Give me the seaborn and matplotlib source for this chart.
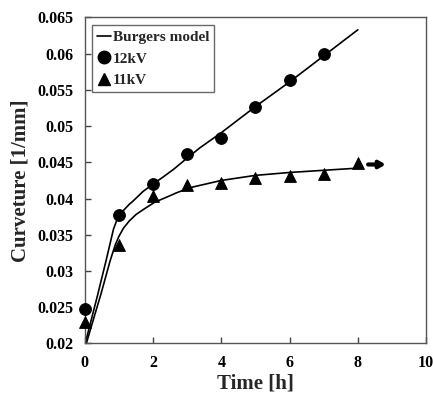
import matplotlib
matplotlib.use("Agg")
from matplotlib import pyplot as plt
from matplotlib.lines import Line2D
import seaborn as sns

# measured points
time_12kv = [0, 1, 2, 3, 4, 5, 6, 7]
curv_12kv = [0.0247, 0.0377, 0.0420, 0.0461, 0.0483, 0.0527, 0.0564, 0.0600]
time_11kv = [0, 1, 2, 3, 4, 5, 6, 7, 8]
curv_11kv = [0.0230, 0.0336, 0.0403, 0.0419, 0.0422, 0.0428, 0.0431, 0.0434, 0.0449]

# Burgers model curves (clipped at the bottom axis)
model_t_12 = [0, 0.13, 0.38, 0.62, 0.84, 0.92, 1.0, 1.1, 1.2, 1.3, 1.4, 1.71, 2.0,
              2.3, 2.59, 3.0, 3.37, 4, 5, 6, 7, 8]
model_c_12 = [0.0198, 0.0222, 0.0268, 0.0314, 0.0358, 0.0368, 0.0375, 0.0382, 0.0387,
              0.0392, 0.0396, 0.0410, 0.0420, 0.0430, 0.0440, 0.0456, 0.0470, 0.0491,
              0.0527, 0.0561, 0.0597, 0.0633]
model_t_11 = [0, 0.18, 0.47, 0.74, 0.89, 1.0, 1.13, 1.3, 1.5, 1.75, 2.05, 2.4, 2.69,
              3.08, 4, 5, 6, 7, 8]
model_c_11 = [0.0193, 0.0222, 0.0268, 0.0314, 0.0336, 0.0348, 0.0359, 0.0369, 0.0378,
              0.0386, 0.0395, 0.0402, 0.0408, 0.0415, 0.0425, 0.0432, 0.0436, 0.0439,
              0.0442]

x_ticks = [0, 2, 4, 6, 8, 10]
y_ticks = [0.02, 0.025, 0.03, 0.035, 0.04, 0.045, 0.05, 0.055, 0.06, 0.065]
y_tick_labels = ["0.02", "0.025", "0.03", "0.035", "0.04", "0.045", "0.05", "0.055", "0.06", "0.065"]

sns.set_style("ticks")
plt.rcParams["font.family"] = ["Liberation Serif", "DejaVu Serif"]
plt.rcParams["font.weight"] = "bold"

fig = plt.figure(figsize=(4.33, 3.97), dpi=100)
ax = fig.add_axes([0.196, 0.135, 0.788, 0.821])

sns.lineplot(x=model_t_12, y=model_c_12, ax=ax, color="black", linewidth=1.2, sort=False)
sns.lineplot(x=model_t_11, y=model_c_11, ax=ax, color="black", linewidth=1.2, sort=False)
sns.scatterplot(x=time_12kv, y=curv_12kv, ax=ax, marker="o", color="black", s=72,
                edgecolor="black", zorder=3, clip_on=False)
sns.scatterplot(x=time_11kv, y=curv_11kv, ax=ax, marker="^", color="black", s=72,
                edgecolor="black", zorder=3, clip_on=False)

ax.annotate("", xy=(8.9, 0.0447), xytext=(8.22, 0.0447),
            arrowprops=dict(arrowstyle="-|>,head_length=0.35,head_width=0.2",
                            color="black", lw=3))

ax.set_xlim(0, 10)
ax.set_ylim(0.02, 0.065)
ax.set_xticks(x_ticks)
ax.set_yticks(y_ticks)
ax.set_yticklabels(y_tick_labels)
ax.tick_params(direction="in", length=4, width=1, labelsize=11.5, pad=8, colors="#444444",
               labelcolor="black")
for lab in ax.get_xticklabels() + ax.get_yticklabels():
    lab.set_fontweight("bold")
for sp in ax.spines.values():
    sp.set_visible(True)
    sp.set_color("#555555")
    sp.set_linewidth(1.0)

ax.set_xlabel("Time [h]", fontsize=15, fontweight="bold", labelpad=2)
ax.set_ylabel("Curveture [1/mm]", fontsize=15, fontweight="bold", labelpad=5)

handles = [
    Line2D([], [], color="black", lw=1.2),
    Line2D([], [], color="black", marker="o", linestyle="none", markersize=9),
    Line2D([], [], color="black", marker="^", linestyle="none", markersize=9),
]
leg = ax.legend(handles, ["Burgers model", "12kV", "11kV"], loc="upper left",
                bbox_to_anchor=(0.012, 0.985), frameon=True, fancybox=False,
                edgecolor="#444444", handlelength=0.9, handletextpad=0.1,
                borderaxespad=0.2, labelspacing=0.5, borderpad=0.35,
                prop={"family": ["Liberation Serif"], "weight": "bold", "size": 11})
leg.get_frame().set_linewidth(1.0)

fig.savefig("out.png", dpi=100)
